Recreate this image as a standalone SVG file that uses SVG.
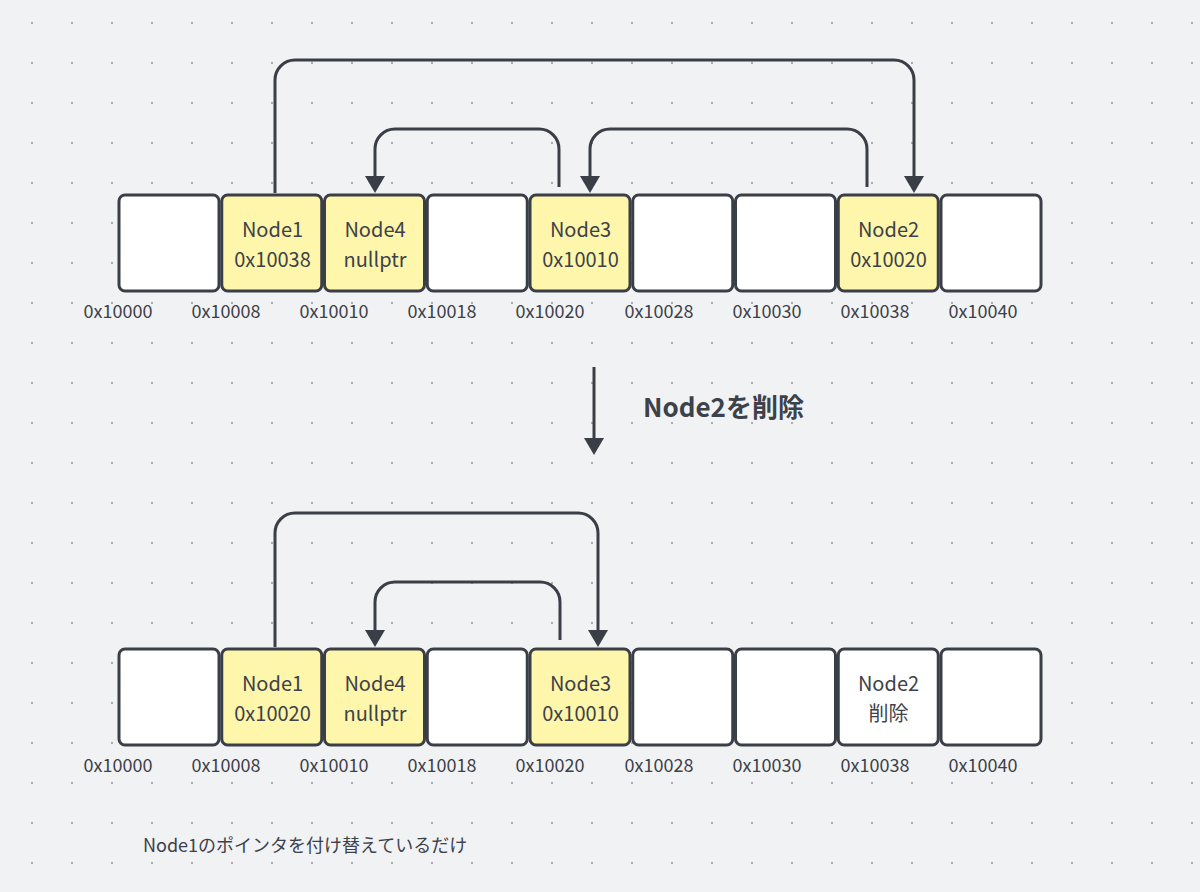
<svg xmlns="http://www.w3.org/2000/svg" width="1200" height="892" viewBox="0 0 1200 892">
<style>
.cell{stroke:#3a3e46;stroke-width:3;}
.used{fill:#fef6ab;}
.empty{fill:#ffffff;}
.t{font-family:"Noto Sans CJK JP","Noto Sans",sans-serif;fill:#3d4149;}
.nt{font-size:20px;text-anchor:middle;}
.addr{font-size:18px;text-anchor:middle;}
.conn{fill:none;stroke:#3a3e46;stroke-width:3;}
</style>
<defs>
<pattern id="dots" patternUnits="userSpaceOnUse" x="0" y="0" width="40" height="40">
<rect x="31" y="22" width="2" height="2" fill="#a9acb3"/>
</pattern>
<marker id="ah" markerUnits="userSpaceOnUse" viewBox="0 0 17 20" refX="9" refY="10" markerWidth="17" markerHeight="20" orient="auto">
<path d="M0,0 L17,10 L0,20 Z" fill="#3a3e46"/>
</marker>
</defs>
<rect width="1200" height="892" fill="#f1f2f4"/>
<rect width="1200" height="892" fill="url(#dots)"/>

<g id="top-row">
<g id="t0"><rect class="cell empty" x="119" y="195" width="100" height="96" rx="6"/></g>
<g id="t1"><rect class="cell used" x="221.75" y="195" width="100" height="96" rx="6"/><text class="t nt" x="272.5" y="237">Node1</text><text class="t nt" x="272.5" y="267">0x10038</text></g>
<g id="t2"><rect class="cell used" x="324.5" y="195" width="100" height="96" rx="6"/><text class="t nt" x="375" y="237">Node4</text><text class="t nt" x="375" y="267">nullptr</text></g>
<g id="t3"><rect class="cell empty" x="427.25" y="195" width="100" height="96" rx="6"/></g>
<g id="t4"><rect class="cell used" x="530" y="195" width="100" height="96" rx="6"/><text class="t nt" x="580.5" y="237">Node3</text><text class="t nt" x="580.5" y="267">0x10010</text></g>
<g id="t5"><rect class="cell empty" x="632.75" y="195" width="100" height="96" rx="6"/></g>
<g id="t6"><rect class="cell empty" x="735.5" y="195" width="100" height="96" rx="6"/></g>
<g id="t7"><rect class="cell used" x="838.25" y="195" width="100" height="96" rx="6"/><text class="t nt" x="888.5" y="237">Node2</text><text class="t nt" x="888.5" y="267">0x10020</text></g>
<g id="t8"><rect class="cell empty" x="941" y="195" width="100" height="96" rx="6"/></g>
</g>
<g id="top-addr">
<text class="t addr" x="118" y="318">0x10000</text>
<text class="t addr" x="226" y="318">0x10008</text>
<text class="t addr" x="334" y="318">0x10010</text>
<text class="t addr" x="442" y="318">0x10018</text>
<text class="t addr" x="550" y="318">0x10020</text>
<text class="t addr" x="659" y="318">0x10028</text>
<text class="t addr" x="767" y="318">0x10030</text>
<text class="t addr" x="875" y="318">0x10038</text>
<text class="t addr" x="983" y="318">0x10040</text>
</g>

<g id="bottom-row">
<g id="b0"><rect class="cell empty" x="119" y="649" width="100" height="96" rx="6"/></g>
<g id="b1"><rect class="cell used" x="221.75" y="649" width="100" height="96" rx="6"/><text class="t nt" x="272.5" y="691">Node1</text><text class="t nt" x="272.5" y="721">0x10020</text></g>
<g id="b2"><rect class="cell used" x="324.5" y="649" width="100" height="96" rx="6"/><text class="t nt" x="375" y="691">Node4</text><text class="t nt" x="375" y="721">nullptr</text></g>
<g id="b3"><rect class="cell empty" x="427.25" y="649" width="100" height="96" rx="6"/></g>
<g id="b4"><rect class="cell used" x="530" y="649" width="100" height="96" rx="6"/><text class="t nt" x="580.5" y="691">Node3</text><text class="t nt" x="580.5" y="721">0x10010</text></g>
<g id="b5"><rect class="cell empty" x="632.75" y="649" width="100" height="96" rx="6"/></g>
<g id="b6"><rect class="cell empty" x="735.5" y="649" width="100" height="96" rx="6"/></g>
<g id="b7"><rect class="cell empty" x="838.25" y="649" width="100" height="96" rx="6"/><text class="t nt" x="888.5" y="691">Node2</text><text class="t nt" x="888.5" y="721">削除</text></g>
<g id="b8"><rect class="cell empty" x="941" y="649" width="100" height="96" rx="6"/></g>
</g>
<g id="bottom-addr">
<text class="t addr" x="118" y="772">0x10000</text>
<text class="t addr" x="226" y="772">0x10008</text>
<text class="t addr" x="334" y="772">0x10010</text>
<text class="t addr" x="442" y="772">0x10018</text>
<text class="t addr" x="550" y="772">0x10020</text>
<text class="t addr" x="659" y="772">0x10028</text>
<text class="t addr" x="767" y="772">0x10030</text>
<text class="t addr" x="875" y="772">0x10038</text>
<text class="t addr" x="983" y="772">0x10040</text>
</g>

<g id="connectors">
<path class="conn" marker-end="url(#ah)" d="M275,193 V80 A20,20 0 0 1 295,60 H894 A20,20 0 0 1 914,80 V185"/>
<path class="conn" marker-end="url(#ah)" d="M559,187 V149 A20,20 0 0 0 539,129 H395 A20,20 0 0 0 375,149 V185"/>
<path class="conn" marker-end="url(#ah)" d="M867,187 V149 A20,20 0 0 0 847,129 H610 A20,20 0 0 0 590,149 V185"/>
<path class="conn" marker-end="url(#ah)" d="M594,367 V447"/>
<path class="conn" marker-end="url(#ah)" d="M275,647 V533 A20,20 0 0 1 295,513 H578 A20,20 0 0 1 598,533 V639"/>
<path class="conn" marker-end="url(#ah)" d="M560,640 V602 A20,20 0 0 0 540,582 H395 A20,20 0 0 0 375,602 V639"/>
</g>

<g id="labels">
<text class="t" x="643" y="417" font-size="26" font-weight="bold">Node2を削除</text>
<text class="t" x="143" y="852" font-size="18">Node1のポインタを付け替えているだけ</text>
</g>
</svg>
